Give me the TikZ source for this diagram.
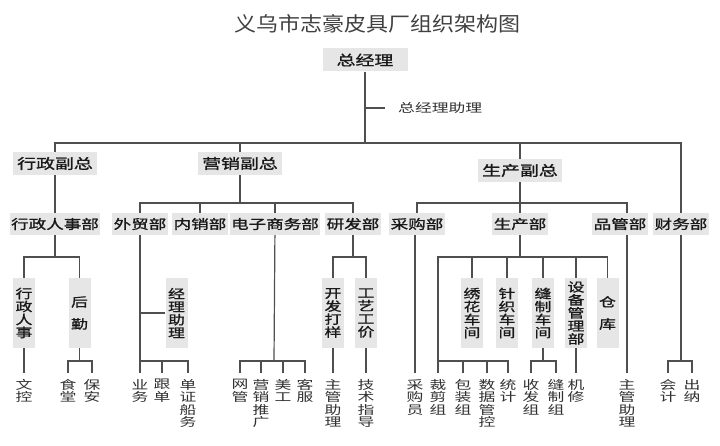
\documentclass[tikz,border=0pt]{standalone}
\usepackage{fontspec}
\usepackage{tikz}
\usetikzlibrary{positioning}
\newfontfamily\titlefont[FakeStretch=1.1]{Noto Sans CJK SC}
\newfontfamily\boxfont[FakeStretch=1.35,FakeBold=1.2]{Noto Sans CJK SC}
\newfontfamily\leaffont[FakeStretch=1.4]{Noto Sans CJK SC}
\definecolor{boxgray}{HTML}{E6E6E6}
\definecolor{linegray}{HTML}{4F4F4F}
\definecolor{txtgray}{HTML}{303030}
\tikzset{
conn/.style={draw=linegray, line width=1.2pt},
topbox/.style={fill=boxgray, text=black!90, inner xsep=4pt, inner ysep=0pt,
  minimum height=23pt, font=\boxfont\fontsize{14}{14}\selectfont},
deptbox/.style={topbox, inner xsep=1.5pt, minimum height=22pt,
  font=\boxfont\fontsize{13}{13}\selectfont},
vbox/.style={fill=boxgray, text=black!90, align=center, inner sep=0pt,
  minimum width=22pt, minimum height=70pt,
  font=\boxfont\fontsize{12.5}{13}\selectfont},
leaf/.style={anchor=north, align=center, inner xsep=0pt, inner ysep=6pt,
  text=txtgray, font=\leaffont\fontsize{12}{12.5}\selectfont}
}

\begin{document}
\begin{tikzpicture}[x=1pt,y=-1pt]
\useasboundingbox (0,0) rectangle (720,446);
\node[text=black!75, font=\titlefont\fontsize{20}{20}\selectfont] (title) at (377,24) {义乌市志豪皮具厂组织架构图};

% top
\node[topbox, minimum width=85pt] (zjl) at (365,60) {总经理};
\node[anchor=west, inner sep=0pt, text=txtgray, font=\leaffont\fontsize{12}{12}\selectfont] (zjlzl) at (398,108) {总经理助理};
\node[topbox] (xzfz) at (55,163.5) {行政副总};
\node[topbox] (yxfz) at (240,163.5) {营销副总};
\node[topbox] (scfz) at (520,170.5) {生产副总};

% departments
\node[deptbox] (xzrsb) at (55,224) {行政人事部};
\node[deptbox] (wmb) at (140,224) {外贸部};
\node[deptbox] (nxb) at (200,224) {内销部};
\node[deptbox] (dzswb) at (275,224) {电子商务部};
\node[deptbox] (yfb) at (353,224) {研发部};
\node[deptbox] (cgb) at (417,224) {采购部};
\node[deptbox] (scb) at (520,224) {生产部};
\node[deptbox] (pgb) at (620,224) {品管部};
\node[deptbox] (cwb) at (681,224) {财务部};

% vertical boxes
\node[vbox] (xzrs) at (24,313) {行\\政\\人\\事};
\node[vbox] (hq) at (79.5,313) {后\\[9pt]勤};
\node[vbox] (jlzl) at (176.5,313) {经\\理\\助\\理};
\node[vbox] (kfdy) at (333,313) {开\\发\\打\\样};
\node[vbox] (gygj) at (366,313) {工\\艺\\工\\价};
\node[vbox] (xhcj) at (472,313) {绣\\花\\车\\间};
\node[vbox] (zzcj) at (507,313) {针\\织\\车\\间};
\node[vbox] (fzcj) at (543,313) {缝\\制\\车\\间};
\node[vbox] (sbglb) at (576,313) {设\\备\\管\\理\\部};
\node[vbox] (ck) at (607.5,313) {仓\\[9pt]库};

% leaves
\node[leaf] (wk) at (24,373) {文\\控};
\node[leaf] (st) at (68,373) {食\\堂};
\node[leaf] (ba) at (92,373) {保\\安};
\node[leaf] (yw) at (140,373) {业\\务};
\node[leaf] (gd) at (162,373) {跟\\单};
\node[leaf] (dzcw) at (188,373) {单\\证\\船\\务};
\node[leaf] (wg) at (240,373) {网\\管};
\node[leaf] (yxtg) at (261,373) {营\\销\\推\\广};
\node[leaf] (mg) at (283,373) {美\\工};
\node[leaf] (kf) at (305,373) {客\\服};
\node[leaf] (zgzla) at (333,373) {主\\管\\助\\理};
\node[leaf] (jszd) at (366,373) {技\\术\\指\\导};
\node[leaf] (cgy) at (415,373) {采\\购\\员};
\node[leaf] (cjz) at (438,373) {裁\\剪\\组};
\node[leaf] (bzz) at (463,373) {包\\装\\组};
\node[leaf] (sjgk) at (487,373) {数\\据\\管\\控};
\node[leaf] (tj) at (508,373) {统\\计};
\node[leaf] (sfz) at (531,373) {收\\发\\组};
\node[leaf] (fzz) at (556,373) {缝\\制\\组};
\node[leaf] (jx) at (576,373) {机\\修};
\node[leaf] (zgzlb) at (627,373) {主\\管\\助\\理};
\node[leaf] (kj) at (668,373) {会\\计};
\node[leaf] (cn) at (692,373) {出\\纳};

% bars
\coordinate (mainbar) at (365,143);
\coordinate (zlpt) at (365,108);
\coordinate (yxbar) at (240,203);
\coordinate (scbar) at (520,203);
\coordinate (xzbar) at (55,257);
\coordinate (hqbar) at (79.5,361);
\coordinate (wmbar) at (140,361);
\coordinate (dzbar) at (274,361);
\coordinate (yfbar) at (353,257);
\coordinate (scbbar) at (520,257);
\coordinate (cjbar) at (438,361);
\coordinate (fzbar) at (543,361);
\coordinate (cwbar) at (681,361);

\draw[conn] (zjl) -- (mainbar);
\draw[conn] (zlpt) -- ([xshift=-13pt]zjlzl.west);
\draw[conn] (xzfz) |- (mainbar) -| (cwb);
\draw[conn] (yxfz) -- (yxfz |- mainbar);
\draw[conn] (scfz) -- (scfz |- mainbar);

\draw[conn] (xzfz) -- (xzrsb);
\draw[conn] (yxfz) -- (yxbar);
\draw[conn] (wmb) |- (yxbar) -| (yfb);
\draw[conn] (nxb) -- (nxb |- yxbar);
\draw[conn] (dzswb) -- (dzswb |- yxbar);
\draw[conn] (scfz) -- (scbar);
\draw[conn] (cgb) |- (scbar) -| ([xshift=7pt]pgb.north);
\draw[conn] (scb) -- (scbar);

\draw[conn] (xzrsb) -- (xzbar);
\draw[conn] (xzrs) |- (xzbar) -| (hq);
\draw[conn] (xzrs) -- (wk);
\draw[conn] (hq) -- (hqbar);
\draw[conn] (st) |- (hqbar) -| (ba);

\draw[conn] (wmb) -- (yw);
\draw[conn] (wmb |- jlzl) -- (jlzl);
\draw[conn] (wmbar) -| (dzcw);
\draw[conn] (gd) -- (gd |- wmbar);

\draw[conn] (dzswb) -- (dzbar);
\draw[conn] (wg) |- (dzbar) -| (kf);
\draw[conn] (yxtg) -- (yxtg |- dzbar);
\draw[conn] (mg) -- (mg |- dzbar);

\draw[conn] (yfb) -- (yfbar);
\draw[conn] (kfdy) |- (yfbar) -| (gygj);
\draw[conn] (kfdy) -- (zgzla);
\draw[conn] (gygj) -- (jszd);

\draw[conn] (cgb.south -| cgy) -- (cgy);

\draw[conn] (scb) -- (scbbar);
\draw[conn] (cjz) |- (scbbar) -| (ck);
\foreach \v in {xhcj,zzcj,fzcj,sbglb}
  \draw[conn] (\v) -- (\v |- scbbar);
\draw[conn] (cjbar) -| (tj);
\draw[conn] (bzz) -- (bzz |- cjbar);
\draw[conn] (sjgk) -- (sjgk |- cjbar);
\draw[conn] (fzcj) -- (fzbar);
\draw[conn] (sfz) |- (fzbar) -| (fzz);
\draw[conn] (sbglb) -- (jx);

\draw[conn] ([xshift=7pt]pgb.south) -- (zgzlb);

\draw[conn] (cwb) -- (cwbar);
\draw[conn] (kj) |- (cwbar) -| (cn);
\end{tikzpicture}
\end{document}
